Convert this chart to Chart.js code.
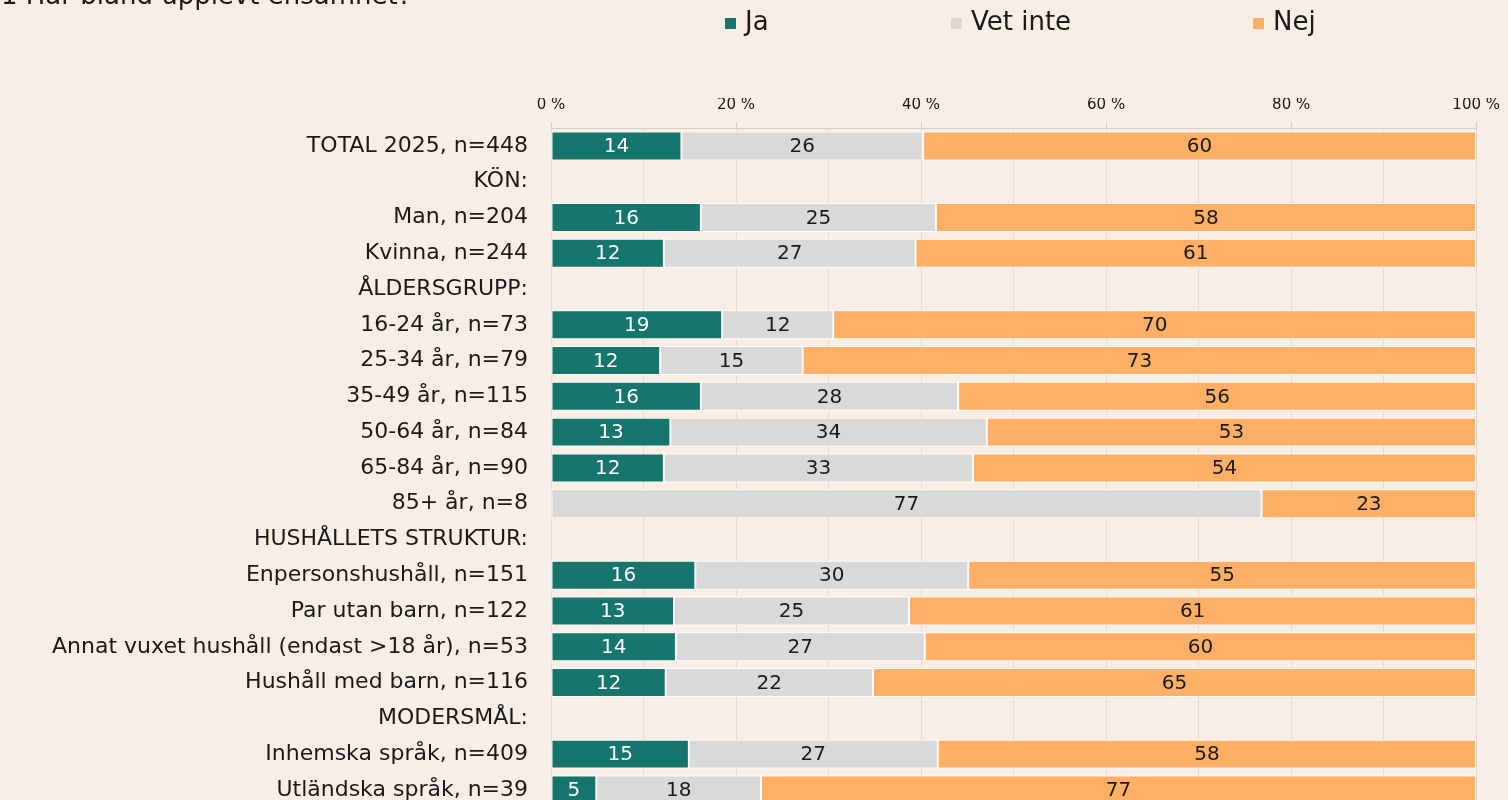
<!DOCTYPE html>
<html lang="sv">
<head>
<meta charset="utf-8">
<script src="https://cdn.jsdelivr.net/npm/chart.js@4/dist/chart.umd.min.js"></script>
<style>
  html, body { margin: 0; padding: 0; background: #f8eee5; overflow: hidden; }
  #wrap { position: relative; width: 1508px; height: 800px; overflow: hidden; }
  #grafik { display: block; }
  #rubrik { position: absolute; left: 1px; top: -20px; font: 26px "DejaVu Sans", sans-serif; color: #1a1a1a; white-space: nowrap; }
</style>
</head>
<body>
<div id="wrap">
  <div id="rubrik">1 Har bland upplevt ensamhet?</div>
  <canvas id="grafik" width="1508" height="836"></canvas>
</div>
<script>
const kategorier = [
    "TOTAL 2025, n=448",
    "KÖN:",
    "Man, n=204",
    "Kvinna, n=244",
    "ÅLDERSGRUPP:",
    "16-24 år, n=73",
    "25-34 år, n=79",
    "35-49 år, n=115",
    "50-64 år, n=84",
    "65-84 år, n=90",
    "85+ år, n=8",
    "HUSHÅLLETS STRUKTUR:",
    "Enpersonshushåll, n=151",
    "Par utan barn, n=122",
    "Annat vuxet hushåll (endast >18 år), n=53",
    "Hushåll med barn, n=116",
    "MODERSMÅL:",
    "Inhemska språk, n=409",
    "Utländska språk, n=39"
];

const ja =      [14.1, null, 16.2, 12.2, null, 18.5, 11.8, 16.2, 12.9, 12.2, 0,    null, 15.6, 13.3, 13.5, 12.4, null, 14.9, 4.9];
const vetInte = [26.1, null, 25.4, 27.2, null, 12.0, 15.4, 27.8, 34.2, 33.4, 76.8, null, 29.5, 25.4, 26.9, 22.4, null, 26.9, 17.8];
const nej =     [59.8, null, 58.4, 60.6, null, 69.5, 72.8, 56.0, 52.9, 54.4, 23.2, null, 54.9, 61.3, 59.6, 65.2, null, 58.2, 77.3];

const serier = ["Ja", "Vet inte", "Nej"];
const farger = ["#16756d", "#d9d9d9", "#ffb066"];
const textfarger = ["#ffffff", "#1a1a1a", "#1a1a1a"];

const typsnitt = '"DejaVu Sans", sans-serif';

// etiketter mitt i staplarna
const stapelEtiketter = {
    id: "stapelEtiketter",
    afterDatasetsDraw(chart) {
        const ctx = chart.ctx;
        ctx.save();
        ctx.font = "20px " + typsnitt;
        ctx.textAlign = "center";
        ctx.textBaseline = "middle";
        chart.data.datasets.forEach((ds, i) => {
            chart.getDatasetMeta(i).data.forEach((bar, j) => {
                const v = ds.data[j];
                if (v === null || v === 0) return;
                const x = (bar.x + bar.base) / 2;
                ctx.fillStyle = textfarger[i];
                ctx.fillText(Math.round(v), x, bar.y + 1);
            });
        });
        ctx.restore();
    }
};

// egen förklaring uppe till höger
const forklaring = {
    id: "forklaring",
    afterDraw(chart) {
        const ctx = chart.ctx;
        const xLagen = [725, 951, 1253];
        ctx.save();
        ctx.font = "26px " + typsnitt;
        ctx.textBaseline = "middle";
        ctx.textAlign = "left";
        serier.forEach((namn, i) => {
            ctx.fillStyle = farger[i];
            ctx.fillRect(xLagen[i], 18, 11, 11);
            ctx.fillStyle = "#1a1a1a";
            ctx.fillText(namn, xLagen[i] + 20, 23);
        });
        ctx.restore();
    }
};

const grafik = new Chart(document.getElementById("grafik"), {
    type: "bar",
    data: {
        labels: kategorier,
        datasets: serier.map((namn, i) => ({
            label: namn,
            data: [ja, vetInte, nej][i],
            backgroundColor: farger[i],
            borderColor: "#ffffff",
            borderWidth: 1,
            borderSkipped: false,
            categoryPercentage: 1,
            barPercentage: 0.81
        }))
    },
    options: {
        indexAxis: "y",
        responsive: false,
        animation: false,
        layout: { padding: { top: 98, right: 31, left: 0, bottom: 0 } },
        plugins: {
            legend: { display: false },
            tooltip: { enabled: false }
        },
        scales: {
            x: {
                position: "top",
                stacked: true,
                min: 0,
                max: 100,
                afterFit(s) { s.height = 30; },
                ticks: {
                    stepSize: 10,
                    autoSkip: false,
                    maxRotation: 0,
                    padding: 8,
                    color: "#1a1a1a",
                    font: { family: typsnitt, size: 15 },
                    callback: v => (v % 20 === 0 ? v + " %" : "")
                },
                grid: {
                    color: "#e2dcd6",
                    lineWidth: 1,
                    tickLength: 6,
                    tickColor: c => (c.tick && c.tick.value % 20 === 0 ? "#d4cfca" : "rgba(0,0,0,0)")
                },
                border: { color: "#d4cfca" }
            },
            y: {
                stacked: true,
                afterFit(s) { s.width = 551; },
                ticks: {
                    padding: 15,
                    color: "#1a1a1a",
                    font: { family: typsnitt, size: 22 }
                },
                grid: { display: false },
                border: { display: false }
            }
        }
    },
    plugins: [stapelEtiketter, forklaring]
});
</script>
</body>
</html>
